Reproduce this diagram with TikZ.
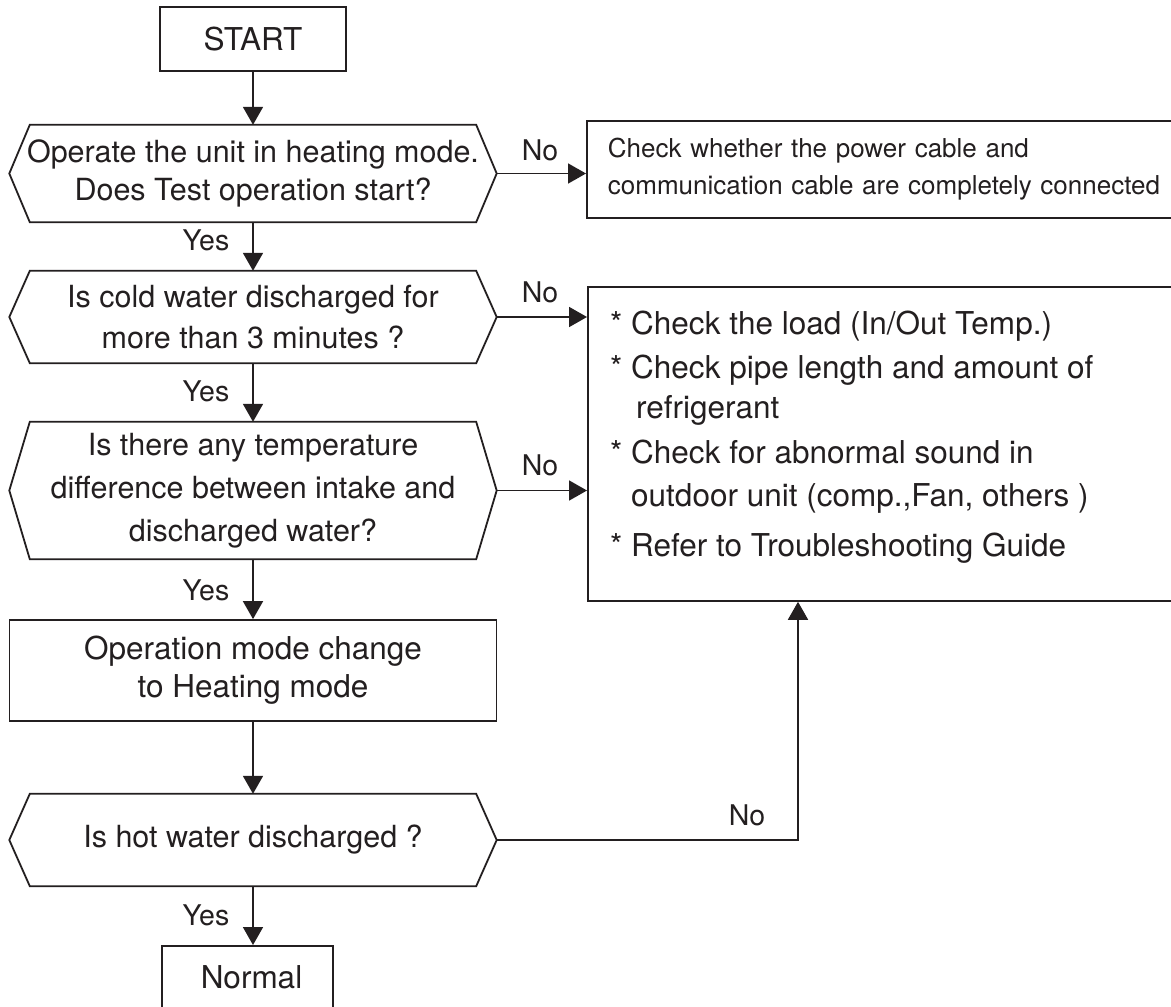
\documentclass[tikz,border=0pt]{standalone}
\usepackage{fontspec}
\setmainfont{TeX Gyre Heros}
\usetikzlibrary{arrows.meta}
\definecolor{ink}{RGB}{35,31,32}
\newcommand\fsz[2]{\fontsize{#1pt}{#2pt}\selectfont}
\newcommand\hexa[1]{\draw[ln] ([xshift=20.5pt]#1.north west) -- ([xshift=-20.5pt]#1.north east) -- (#1.east) -- ([xshift=-20.5pt]#1.south east) -- ([xshift=20.5pt]#1.south west) -- (#1.west) -- cycle;}
\begin{document}
\begin{tikzpicture}[x=1pt,y=-1pt,
  ln/.style={draw=ink, line width=1.8pt, line join=miter},
  box/.style={ln, rectangle, inner sep=0pt, align=center, text=ink, font=\fsz{31.5}{38}},
  dec/.style={rectangle, inner sep=0pt, align=center, text=ink, minimum width=487pt},
  lab/.style={text=ink, inner sep=0pt, font=\fsz{28.5}{34}},
  arr/.style={draw=ink, line width=1.8pt, -{Triangle[length=18pt,width=20pt]}},
  txt/.style={text=ink, inner sep=0pt, anchor=base west, font=\fsz{31.5}{38}}
]
\clip (0,0) rectangle (1171,1007);
\fill[white] (0,0) rectangle (1171,1007);

% main column
\node[box, minimum width=186pt, minimum height=64pt] (start) at (253,39) {START};

\node[dec, minimum height=97pt, font=\fsz{30.5}{38}] (d1) at (253,173.5)
  {Operate the unit in heating mode.\\Does Test operation start?};
\hexa{d1}

\node[dec, minimum height=92pt, font=\fsz{30.5}{41}] (d2) at (253,317)
  {Is cold water discharged for\\more than 3 minutes ?};
\hexa{d2}

\node[dec, minimum height=137pt, font=\fsz{30.5}{43}] (d3) at (253,490.5)
  {Is there any temperature\\difference between intake and\\discharged water?};
\hexa{d3}

\node[box, minimum width=487pt, minimum height=101pt] (op) at (253,670.5)
  {Operation mode change\\to Heating mode};

\node[dec, minimum height=92pt, font=\fsz{30.5}{38}] (d4) at (253,840)
  {Is hot water discharged ?};
\hexa{d4}

\node[box, anchor=north, minimum width=171pt, text height=43pt, text depth=70pt] (normal) at (247.5,945) {\hspace*{8pt}Normal};

% right boxes
\node[box, anchor=west, minimum height=97pt, text width=640pt, align=left, inner xsep=21pt, font=\fsz{26}{37}] (b1) at (586,169.5)
  {Check whether the power cable and\\communication cable are completely connected};

\node[ln, rectangle, anchor=north west, minimum width=700pt, minimum height=314pt, inner sep=0pt] (b2) at (587,286) {};
\node[txt] (t1) at (610,334) {* Check the load (In/Out Temp.)};
\node[txt] (t2) at (610,378) {* Check pipe length and amount of};
\node[txt] (t3) at (636,418) {refrigerant};
\node[txt] (t4) at (610,463) {* Check for abnormal sound in};
\node[txt] (t5) at (631,506) {outdoor unit (comp.,Fan, others )};
\node[txt] (t6) at (610,556) {* Refer to Troubleshooting Guide};

% connectors
\draw[arr] (start) -- (d1);
\draw[arr] (d1) -- (d2);
\draw[arr] (d2) -- (d3);
\draw[arr] (d3) -- (op);
\draw[arr] (op) -- (d4);
\draw[arr] (d4.south) -- (d4.south |- normal.north);
\draw[arr] (d1.east) -- (d1.east -| b1.west);
\draw[arr] (d2.east) -- (d2.east -| b2.west);
\draw[arr] (d3.east) -- (d3.east -| b2.west);
\draw[arr] (d4.east) -| ([xshift=211pt]b2.south west);

% labels
\node[lab] (y1) at (206,240) {Yes};
\node[lab] (y2) at (206,391) {Yes};
\node[lab] (y3) at (206,590) {Yes};
\node[lab] (y4) at (206,915) {Yes};
\node[lab] (n1) at (540,150) {No};
\node[lab] (n2) at (540,292) {No};
\node[lab] (n3) at (540,465) {No};
\node[lab] (n4) at (747,815) {No};
\end{tikzpicture}
\end{document}
